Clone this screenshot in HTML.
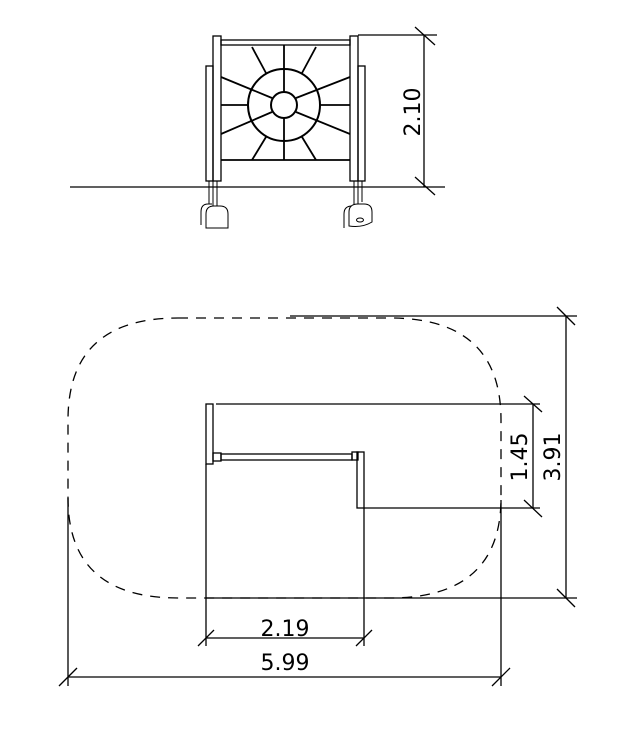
<!DOCTYPE html>
<html><head><style>body{margin:0;background:#fff}svg{display:block}</style></head>
<body>
<svg width="643" height="733" viewBox="0 0 643 733" xmlns="http://www.w3.org/2000/svg" font-family="DejaVu Sans, Liberation Sans, sans-serif">
<g stroke="#000" fill="none" stroke-width="1.3">
<line x1="70" y1="187" x2="445" y2="187"/>
<rect x="213" y="36" width="8" height="145" fill="#fff"/>
<rect x="206" y="66" width="7" height="115"/>
<rect x="350" y="36" width="8" height="145" fill="#fff"/>
<rect x="358" y="66" width="7" height="115"/>
<rect x="221" y="40" width="129" height="5"/>
<circle cx="284" cy="105" r="36" stroke-width="2"/>
<circle cx="284" cy="105" r="13" stroke-width="2"/>
<g stroke-width="1.8">
<line x1="221" y1="105" x2="248" y2="105"/><line x1="320" y1="105" x2="350" y2="105"/>
<line x1="284" y1="45" x2="284" y2="92"/><line x1="284" y1="118" x2="284" y2="160"/>
<line x1="221" y1="77" x2="272" y2="98"/><line x1="221" y1="134" x2="272" y2="112"/>
<line x1="350" y1="77" x2="296" y2="98"/><line x1="350" y1="134" x2="296" y2="112"/>
<line x1="252" y1="47" x2="266" y2="73"/><line x1="316" y1="47" x2="302" y2="73"/>
<line x1="252" y1="160" x2="266" y2="137"/><line x1="316" y1="160" x2="302" y2="137"/>
<line x1="221" y1="160" x2="350" y2="160"/>
</g>
<g stroke-width="1">
<line x1="209" y1="181" x2="209" y2="204"/><line x1="213" y1="181" x2="213" y2="208"/><line x1="217" y1="181" x2="217" y2="208"/>
<path d="M201 225 L201 212 Q201 204 208 204 L212 204"/><path d="M206 228 L206 214 Q206 206 214 206 L220 206 Q228 206 228 214 L228 228 Z" fill="#fff"/>
<line x1="354" y1="181" x2="354" y2="206"/><line x1="358" y1="181" x2="358" y2="206"/><line x1="362" y1="181" x2="362" y2="202"/>
<path d="M344 228 L344 214 Q344 206 352 206"/><path d="M349 226 L349 212 Q349 204 358 204 L364 204 Q372 204 372 212 L372 222 Q362 228 349 226 Z" fill="#fff"/>
<ellipse cx="360" cy="220" rx="3.5" ry="2"/>
</g>
<line x1="358" y1="35" x2="437" y2="35"/>
<line x1="424" y1="35" x2="424" y2="187"/>
<line x1="415" y1="27" x2="435" y2="45"/><line x1="415" y1="177" x2="435" y2="195"/>
<path d="M178 318 L390 318 Q501 318 501 420 L501 498 Q501 598 390 598 L178 598 Q68 598 68 498 L68 420 Q68 318 178 318 Z" stroke-dasharray="10,8"/>
<rect x="206" y="404" width="7" height="60"/>
<rect x="213" y="453" width="8" height="8"/>
<rect x="221" y="454" width="131" height="6"/>
<rect x="352" y="452" width="6" height="8"/>
<rect x="357" y="452" width="7" height="56"/>
<line x1="216" y1="404" x2="540" y2="404"/>
<line x1="364" y1="508" x2="540" y2="508"/>
<line x1="290" y1="316" x2="577" y2="316"/>
<line x1="206" y1="598" x2="577" y2="598"/>
<line x1="533" y1="404" x2="533" y2="508"/>
<line x1="524" y1="396" x2="542" y2="412"/><line x1="524" y1="500" x2="542" y2="517"/>
<line x1="566" y1="316" x2="566" y2="598"/>
<line x1="557" y1="307" x2="575" y2="325"/><line x1="557" y1="589" x2="575" y2="607"/>
<line x1="206" y1="464" x2="206" y2="646"/>
<line x1="364" y1="508" x2="364" y2="646"/>
<line x1="206" y1="638" x2="364" y2="638"/>
<line x1="198" y1="646" x2="214" y2="630"/><line x1="356" y1="646" x2="372" y2="630"/>
<line x1="68" y1="498" x2="68" y2="686"/>
<line x1="501" y1="500" x2="501" y2="686"/>
<line x1="68" y1="677" x2="501" y2="677"/>
<line x1="59" y1="686" x2="77" y2="668"/><line x1="492" y1="686" x2="510" y2="668"/>
</g>
<g font-size="22" fill="#000" text-anchor="middle">
<text transform="translate(420,112) rotate(-90)">2.10</text>
<text transform="translate(527,457) rotate(-90)">1.45</text>
<text transform="translate(560,457) rotate(-90)">3.91</text>
<text x="285" y="636">2.19</text>
<text x="285" y="670">5.99</text>
</g>
</svg>
</body></html>
